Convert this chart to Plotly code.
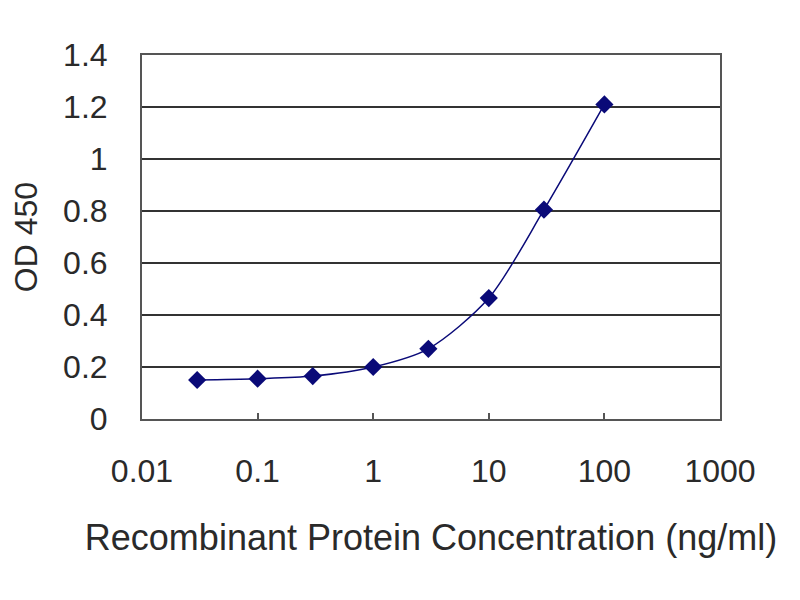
import plotly.graph_objects as go

# Concentration (ng/ml) and measured OD 450
conc = [0.03, 0.1, 0.3, 1, 3, 10, 30, 100]
od450 = [0.150, 0.155, 0.165, 0.200, 0.270, 0.465, 0.805, 1.210]

x_ticks = [0.01, 0.1, 1, 10, 100, 1000]
x_tick_text = ["0.01", "0.1", "1", "10", "100", "1000"]
y_ticks = [0, 0.2, 0.4, 0.6, 0.8, 1, 1.2, 1.4]
y_tick_text = ["0", "0.2", "0.4", "0.6", "0.8", "1", "1.2", "1.4"]

navy = "#0a0a78"
text_col = "#2a2a2a"
font = "Liberation Sans"

fig = go.Figure()
fig.add_trace(go.Scatter(
    x=conc, y=od450, mode="lines+markers",
    line=dict(color=navy, width=1.5, shape="spline", smoothing=0.8),
    marker=dict(symbol="diamond", size=14, color=navy),
    showlegend=False,
))

# page has an 8px body margin, so margins are shifted to line up the plot box
fig.update_layout(
    width=800, height=600,
    margin=dict(l=134, r=88, t=47, b=189),
    paper_bgcolor="white", plot_bgcolor="white",
    font=dict(family=font, size=32, color=text_col),
)

fig.update_xaxes(
    type="log", range=[-2, 3],
    tickvals=x_ticks, ticktext=x_tick_text,
    showgrid=False, zeroline=False,
    showline=True, linecolor="#555555", linewidth=2, mirror=True,
    ticks="inside", ticklen=6, tickwidth=2, tickcolor="#555555",
    ticklabelstandoff=23, automargin=False,
    title=dict(text="Recombinant Protein Concentration (ng/ml)", standoff=36,
               font=dict(size=36, color=text_col)),
)
fig.update_yaxes(
    range=[0, 1.4],
    tickvals=y_ticks, ticktext=y_tick_text,
    showgrid=True, gridcolor="#333333", gridwidth=2,
    zeroline=False,
    showline=True, linecolor="#555555", linewidth=2, mirror=True,
    ticks="", ticklabelstandoff=26, automargin=False,
    title=dict(text="OD 450", standoff=31, font=dict(size=32, color=text_col)),
)

fig.write_html("out.html")
